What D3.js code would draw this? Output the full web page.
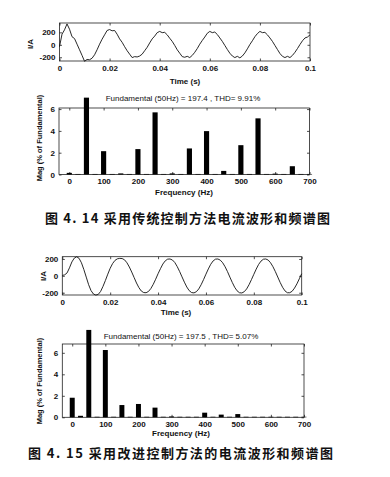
<!DOCTYPE html>
<html>
<head>
<meta charset="utf-8">
<script src="https://cdnjs.cloudflare.com/ajax/libs/d3/7.8.5/d3.min.js"></script>
<style>
body { margin: 0; background: #fff; }
svg { display: block; }
text { font-family: "Liberation Sans", Arial, sans-serif; fill: #111; }
.tick text { font-size: 8px; font-weight: bold; }
.lbl { font-size: 8px; font-weight: bold; }
.cap { font-family: "Noto Sans CJK SC", sans-serif; font-weight: bold; font-size: 13px; }
</style>
</head>
<body>
<svg width="390" height="477"></svg>
<script>
// sample step of the current waveforms (s)
var STEP = 0.001

// fig 4.14 - conventional control, current (A), one sample per ms from 0 to 0.1 s
var current1 = [
	-30, 170, 240, 335, 250, 130, 100, 10, -80, -170,
	-265, -235, -240, -215, -160, -80, 10, 90, 160, 230,
	245, 225, 230, 170, 95, 40, -30, -95, -150, -205,
	-190, -195, -180, -150, -95, -40, 30, 95, 140, 195,
	215, 195, 200, 160, 105, 55, -10, -80, -135, -190,
	-200, -185, -205, -170, -120, -60, 10, 70, 125, 185,
	215, 195, 205, 165, 110, 55, -10, -75, -135, -180,
	-205, -185, -210, -180, -130, -65, 5, 65, 130, 180,
	215, 195, 200, 160, 110, 55, -10, -75, -140, -185,
	-205, -185, -205, -170, -120, -60, 5, 65, 110, 125,
	160
]

// fig 4.15 - improved control, current (A)
var current2 = [
	5, 12, 35, 95, 165, 210, 226, 208, 155, 75,
	-15, -105, -175, -215, -228, -220, -185, -125, -55, 20,
	90, 145, 183, 202, 207, 205, 190, 155, 105, 45,
	-20, -85, -140, -180, -198, -200, -185, -150, -100, -40,
	25, 85, 140, 178, 198, 200, 188, 158, 110, 52,
	-12, -75, -132, -175, -198, -202, -188, -155, -105, -45,
	20, 82, 137, 177, 198, 200, 186, 155, 108, 50,
	-15, -78, -135, -177, -200, -203, -188, -155, -105, -45,
	18, 80, 135, 175, 197, 200, 187, 155, 108, 50,
	-14, -78, -135, -178, -200, -200, -183, -145, -95, -35,
	25
]

// spectrum bins (Hz)
var freqs = [0, 25, 50, 75, 100, 125, 150, 175, 200, 225, 250, 275, 300, 325, 350,
	375, 400, 425, 450, 475, 500, 525, 550, 575, 600, 625, 650, 675, 700]

// magnitude, % of fundamental
var mag1 = [0.15, 0.05, 7.05, 0.05, 2.14, 0.05, 0.1, 0.05, 2.33, 0.05, 5.7, 0.05, 0.1, 0.05, 2.39,
	0.05, 3.98, 0.05, 0.33, 0.05, 2.69, 0.05, 5.15, 0.05, 0.08, 0.05, 0.76, 0.05, 0.05]
var mag2 = [1.82, 0.14, 8.13, 0.05, 6.26, 0.05, 1.14, 0.05, 1.24, 0.05, 0.9, 0.05, 0.08, 0.05, 0.05,
	0.05, 0.43, 0.05, 0.25, 0.05, 0.3, 0.05, 0.05, 0.05, 0.05, 0.05, 0.05, 0.05, 0.05]

var timeTicks = [0, 0.02, 0.04, 0.06, 0.08, 0.1]
var ampTicks = [-200, 0, 200]
var freqTicks = [0, 100, 200, 300, 400, 500, 600, 700]
var magTicks = [0, 2, 4, 6]

var title1 = "Fundamental (50Hz) = 197.4 , THD= 9.91%"
var title2 = "Fundamental (50Hz) = 197.5 , THD= 5.07%"
var caption1 = "图 4. 14 采用传统控制方法电流波形和频谱图"
var caption2 = "图 4. 15 采用改进控制方法的电流波形和频谱图"

var svg = d3.select("svg")

function timeFmt(d) { return d === 0 ? "0" : String(+d.toFixed(2)) }
function plainFmt(d) { return String(d) }

// matlab-ish box with inward ticks on all four sides
function frame(x, y, xt, yt, xf) {
	var x0 = x.range()[0], x1 = x.range()[1], y0 = y.range()[0], y1 = y.range()[1]
	svg.append("rect")
		.attr("x", x0).attr("y", y1)
		.attr("width", x1 - x0).attr("height", y0 - y1)
		.attr("fill", "none").attr("stroke", "#222").attr("stroke-width", 0.8)

	var ax = [
		[d3.axisBottom(x).tickValues(xt).tickFormat(xf), `translate(0,${y0})`],
		[d3.axisTop(x).tickValues(xt).tickFormat(""), `translate(0,${y1})`],
		[d3.axisLeft(y).tickValues(yt).tickFormat(plainFmt), `translate(${x0},0)`],
		[d3.axisRight(y).tickValues(yt).tickFormat(""), `translate(${x1},0)`]
	]
	ax.forEach(a => {
		var g = svg.append("g").attr("transform", a[1])
			.call(a[0].tickSize(-2.5).tickPadding(4))
		g.select(".domain").remove()
		g.selectAll(".tick line").attr("stroke", "#222").attr("stroke-width", 0.8)
	})
}

function wave(data, xr, yr, ydom, xlabel, ylabelPos) {
	var x = d3.scaleLinear().domain([0, 0.1]).range(xr)
	var y = d3.scaleLinear().domain(ydom).range(yr)
	frame(x, y, timeTicks, ampTicks, timeFmt)

	var line = d3.line()
		.x((d, i) => x(i * STEP))
		.y(d => y(d))
	svg.append("path")
		.datum(data)
		.attr("d", line)
		.attr("fill", "none")
		.attr("stroke", "#111")
		.attr("stroke-width", 0.9)

	svg.append("text").attr("class", "lbl")
		.attr("x", xlabel[0]).attr("y", xlabel[1])
		.attr("text-anchor", "middle")
		.text("Time (s)")
	svg.append("text").attr("class", "lbl")
		.attr("transform", `translate(${ylabelPos[0]},${ylabelPos[1]}) rotate(-90)`)
		.attr("text-anchor", "middle")
		.text("I/A")
}

function spectrum(data, xr, yr, ymax, title, titlePos, xlabel, ylabelPos) {
	var x = d3.scaleLinear().domain([-30, 700]).range(xr)
	var y = d3.scaleLinear().domain([0, ymax]).range(yr)
	frame(x, y, freqTicks, magTicks, plainFmt)

	svg.append("g").selectAll("rect")
		.data(freqs)
		.enter()
		.append("rect")
		.attr("x", d => x(d - 7.5))
		.attr("width", d => x(d + 7.5) - x(d - 7.5))
		.attr("y", (d, i) => y(data[i]))
		.attr("height", (d, i) => y(0) - y(data[i]))
		.attr("fill", "#000")

	svg.append("text").attr("class", "lbl")
		.attr("x", titlePos[0]).attr("y", titlePos[1])
		.attr("text-anchor", "middle")
		.style("font-weight", "normal")
		.text(title)
	svg.append("text").attr("class", "lbl")
		.attr("x", xlabel[0]).attr("y", xlabel[1])
		.attr("text-anchor", "middle")
		.text("Frequency (Hz)")
	svg.append("text").attr("class", "lbl")
		.attr("transform", `translate(${ylabelPos[0]},${ylabelPos[1]}) rotate(-90)`)
		.attr("text-anchor", "middle")
		.style("font-size", "7.5px")
		.text("Mag (% of Fundamental)")
}

wave(current1, [59.5, 310], [61, 23], [-260, 350], [185, 83.5], [33, 44])
spectrum(mag1, [59, 309.5], [174.5, 108], 6.1, title1, [183, 100.5], [184, 195], [42, 138])

wave(current2, [62.3, 301.7], [295, 256.7], [-227, 227], [176, 314.5], [46, 276])
spectrum(mag2, [62.3, 304], [417.3, 344], 6.82, title2, [181, 338.5], [181, 436], [42, 381])

svg.append("text").attr("class", "cap")
	.attr("x", 45).attr("y", 223)
	.attr("textLength", 285).attr("lengthAdjust", "spacing")
	.text(caption1)
svg.append("text").attr("class", "cap")
	.attr("x", 28).attr("y", 458)
	.attr("textLength", 305).attr("lengthAdjust", "spacing")
	.text(caption2)
</script>
</body>
</html>
